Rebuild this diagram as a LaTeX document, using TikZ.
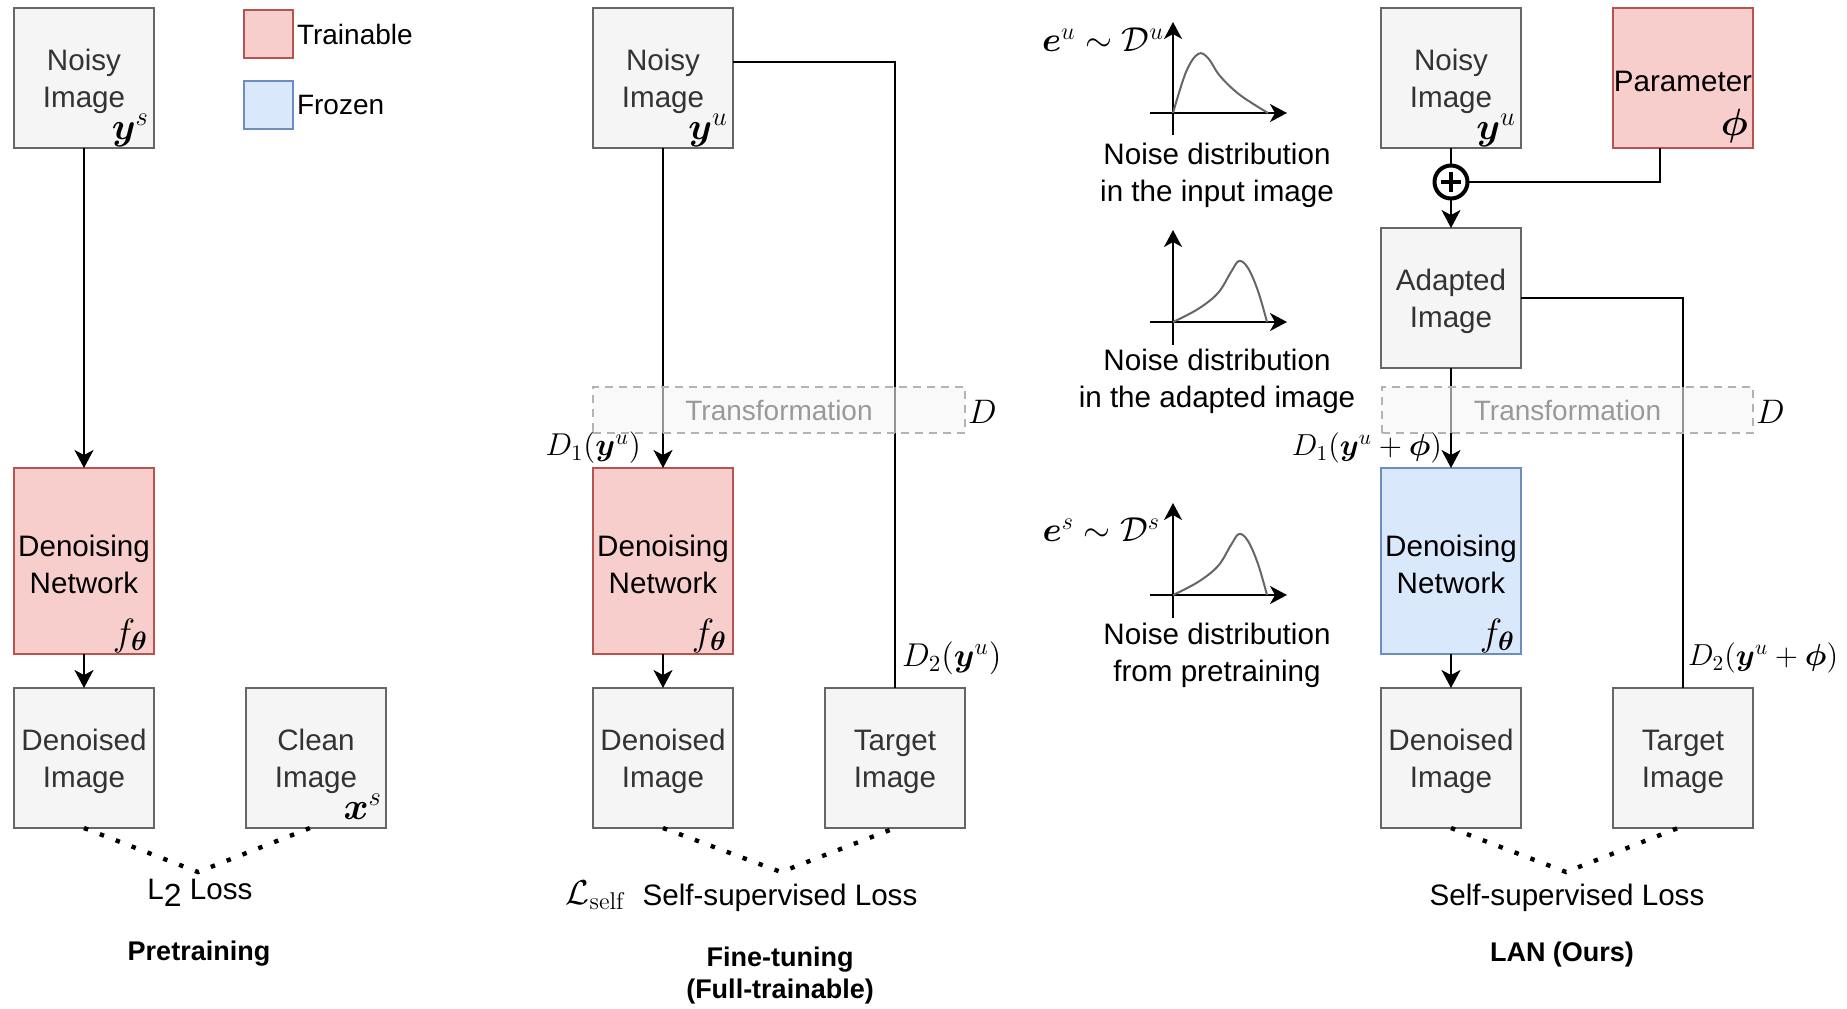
\RequirePackage{fix-cm}
\documentclass[tikz,border=0pt]{standalone}
\usepackage[no-math]{fontspec}
\setmainfont{Liberation Sans}
\usepackage{amsmath}
\usepackage{bm}
\usetikzlibrary{arrows.meta,calc}

\definecolor{boxgray}{HTML}{F5F5F5}
\definecolor{graydraw}{HTML}{666666}
\definecolor{graytext}{HTML}{333333}
\definecolor{redfill}{HTML}{F8CECC}
\definecolor{reddraw}{HTML}{B85450}
\definecolor{bluefill}{HTML}{DAE8FC}
\definecolor{bluedraw}{HTML}{6C8EBF}
\definecolor{tfdraw}{HTML}{B3B3B3}
\definecolor{tftext}{HTML}{999999}
\definecolor{curvecol}{HTML}{666666}

\newcommand{\mainfs}{\fontsize{14.8}{18.5}\selectfont}
\newcommand{\legendfs}{\fontsize{14}{17}\selectfont}
\newcommand{\titlefs}{\fontsize{13.5}{16}\selectfont\bfseries}
\newcommand{\cornerfs}{\fontsize{19}{23}\selectfont}
\newcommand{\mathfs}{\fontsize{15.5}{19}\selectfont}
\newcommand{\fsz}[1]{\fontsize{#1}{#1}\selectfont}
% raises the top of a box caption so that it sits optically centred
\newcommand{\tp}{\rule{0pt}{13.7pt}}

\tikzset{
  every node/.style={inner sep=0pt, outer sep=0pt},
  blk/.style={draw=graydraw, fill=boxgray, line width=1pt, minimum width=70pt,
    minimum height=70pt, text=graytext, align=center, font=\mainfs},
  tall/.style={minimum height=93pt},
  trainbox/.style={draw=reddraw, fill=redfill, text=black},
  frozenbox/.style={draw=bluedraw, fill=bluefill, text=black},
  legbox/.style={draw, line width=1pt, minimum width=24.5pt, minimum height=24pt},
  conn/.style={line width=1pt, draw=black},
  arr/.style={conn, -{Stealth[length=9pt,width=9.5pt,inset=2.5pt]}},
  axisarr/.style={conn, -{Stealth[length=8.5pt,width=9pt,inset=2.5pt]}},
  density/.style={draw=curvecol, line width=1pt},
  lossdots/.style={line width=2.2pt, dash pattern=on 2.2pt off 6.3pt},
  tfbox/.style={draw=tfdraw, line width=1pt, dash pattern=on 4pt off 3pt,
    fill=boxgray, fill opacity=0.6, text opacity=1, text=tftext,
    minimum height=23pt, font=\legendfs},
  corner/.style={anchor=base east, font=\cornerfs},
  mlabel/.style={font=\mathfs},
  caption/.style={font=\mainfs, text=black, align=center},
  title/.style={font=\titlefs, align=center},
}

\begin{document}
\begin{tikzpicture}[x=0.5pt,y=-0.5pt]
\useasboundingbox (0,0) rectangle (1847,1008);

% ---------------- Pretraining ----------------
\node[blk] (n1) at (84,78) {\tp Noisy\\Image};
\node[corner] (n1lab) at ($(n1.south east)+(-5,-9)$) {$\bm{y}^{s}$};
\node[blk, tall, trainbox] (dn1) at (84,561) {\tp Denoising\\Network};
\node[corner] (dn1lab) at ($(dn1.south east)+(-6,-9)$) {$f_{\bm{\theta}}$};
\node[blk] (do1) at (84,758) {\tp Denoised\\Image};
\node[blk] (cl1) at (316,758) {\tp Clean\\Image};
\node[corner] (cl1lab) at ($(cl1.south east)+(-4,-9)$) {$\bm{x}^{s}$};

\draw[arr] (n1.south) -- (dn1.north);
\draw[arr] (dn1.south) -- (do1.north);
\coordinate (apex1) at (198,872);
\draw[lossdots] (do1.south) -- (apex1) -- ($(cl1.south)+(-6,0)$);
\node[caption] (loss1) at (200,893) {L\raisebox{-0.45ex}{\fontsize{16}{18}\selectfont 2} Loss};
\node[title] (title1) at (199,954) {Pretraining};

% legend
\node[legbox, draw=reddraw, fill=redfill] (legT) at (268.5,34) {};
\node[anchor=west, font=\legendfs] (legTt) at ($(legT.east)+(4,0)$) {Trainable};
\node[legbox, draw=bluedraw, fill=bluefill] (legF) at (268.5,105) {};
\node[anchor=west, font=\legendfs] (legFt) at ($(legF.east)+(4,0)$) {Frozen};

% ---------------- Fine-tuning ----------------
\node[blk] (n2) at (663,78) {\tp Noisy\\Image};
\node[corner] (n2lab) at ($(n2.south east)+(-5,-9)$) {$\bm{y}^{u}$};
\node[blk, tall, trainbox] (dn2) at (663,561) {\tp Denoising\\Network};
\node[corner] (dn2lab) at ($(dn2.south east)+(-6,-9)$) {$f_{\bm{\theta}}$};
\node[blk] (do2) at (663,758) {\tp Denoised\\Image};
\node[blk] (tg2) at (895,758) {\tp Target\\Image};

\draw[arr] (n2.south) -- (dn2.north);
\draw[conn] ($(n2.east)+(0,-16)$) -| (tg2.north);
\draw[arr] (dn2.south) -- (do2.north);
\node[tfbox, minimum width=186pt] (tf2) at (779,410) {Transformation};
\node[mlabel, anchor=west, font=\fsz{17}] (tf2D) at ($(tf2.east)+(3,2)$) {$D$};
\node[mlabel, anchor=east, font=\fsz{15.8}] (d1a) at (641,448) {$D_1(\bm{y}^{u})$};
\node[mlabel, anchor=west, font=\fsz{16.5}] (d2a) at (902,658) {$D_2(\bm{y}^{u})$};

\coordinate (apex2) at (781,872);
\draw[lossdots] (do2.south) -- (apex2) -- (tg2.south);
\node[mlabel, font=\fsz{17.3}] (lself) at (596,895) {$\mathcal{L}_{\mathrm{self}}$};
\node[caption] (loss2) at (780,898) {Self-supervised Loss};
\node[title] (title2) at (780,975) {Fine-tuning\\(Full-trainable)};

% ---------------- LAN ----------------
\node[blk] (n3) at (1451,78) {\tp Noisy\\Image};
\node[corner] (n3lab) at ($(n3.south east)+(-5,-9)$) {$\bm{y}^{u}$};
\node[blk, trainbox] (pa3) at (1683,78) {\tp Parameter};
\node[corner] (pa3lab) at ($(pa3.south east)+(-5,-13)$) {$\bm{\phi}$};
\node[circle, draw, line width=2pt, minimum size=16.5pt, fill=white] (plus) at (1451,182) {};
\draw[line width=2pt] ($(plus.center)+(-10,0)$) -- ($(plus.center)+(10,0)$);
\draw[line width=2pt] ($(plus.center)+(0,-10)$) -- ($(plus.center)+(0,10)$);
\node[blk] (ad3) at (1451,298) {\tp Adapted\\Image};
\node[blk, tall, frozenbox] (dn3) at (1451,561) {\tp Denoising\\Network};
\node[corner] (dn3lab) at ($(dn3.south east)+(-6,-9)$) {$f_{\bm{\theta}}$};
\node[blk] (do3) at (1451,758) {\tp Denoised\\Image};
\node[blk] (tg3) at (1683,758) {\tp Target\\Image};

\draw[conn] (n3.south) -- (plus.north);
\draw[conn] ($(pa3.south)+(-23,0)$) |- (plus.east);
\draw[arr] (plus.south) -- (ad3.north);
\draw[arr] (ad3.south) -- (dn3.north);
\draw[conn] (ad3.east) -| (tg3.north);
\draw[arr] (dn3.south) -- (do3.north);
\node[tfbox, minimum width=185.5pt] (tf3) at (1567.5,410) {Transformation};
\node[mlabel, anchor=west, font=\fsz{17}] (tf3D) at ($(tf3.east)+(3,2)$) {$D$};
\node[mlabel, anchor=east, font=\fsz{15.2}] (d1b) at (1442,448) {$D_1(\bm{y}^{u}+\bm{\phi})$};
\node[mlabel, anchor=west, font=\fsz{15.2}] (d2b) at (1688,658) {$D_2(\bm{y}^{u}+\bm{\phi})$};

\coordinate (apex3) at (1566,872);
\draw[lossdots] (do3.south) -- (apex3) -- ($(tg3.south)+(-5,0)$);
\node[caption] (loss3) at (1567,898) {Self-supervised Loss};
\node[title] (title3) at (1562,955) {LAN (Ours)};

% ---------------- noise distributions ----------------
% input image
\draw[axisarr] (1173,135) -- (1173,22);
\draw[axisarr] (1150,113) -- (1287,113);
\draw[density] plot[smooth, tension=0.6] coordinates
  {(1173,113) (1186,72) (1198,54) (1208,58) (1220,76) (1240,95) (1268,113)};
\node[mlabel, font=\fsz{17.3}, anchor=east] (pdfu) at (1164,40) {$\bm{e}^{u}\sim\mathcal{D}^{u}$};
\node[caption] (capu) at (1217,175) {Noise distribution\\in the input image};

% adapted image
\draw[axisarr] (1173,345) -- (1173,230);
\draw[axisarr] (1150,322) -- (1287,322);
\draw[density] plot[smooth, tension=0.6] coordinates
  {(1173,322) (1198,309) (1218,293) (1231,272) (1239,261) (1248,268) (1258,291) (1267,322)};
\node[caption] (capa) at (1217,381) {Noise distribution\\in the adapted image};

% pretraining
\draw[axisarr] (1173,618) -- (1173,503);
\draw[axisarr] (1150,595) -- (1287,595);
\draw[density] plot[smooth, tension=0.6] coordinates
  {(1173,595) (1198,582) (1218,566) (1231,545) (1239,534) (1248,541) (1258,564) (1267,595)};
\node[mlabel, font=\fsz{17.3}, anchor=east] (pdfs) at (1160,530) {$\bm{e}^{s}\sim\mathcal{D}^{s}$};
\node[caption] (caps) at (1217,655) {Noise distribution\\from pretraining};

\end{tikzpicture}
\end{document}
